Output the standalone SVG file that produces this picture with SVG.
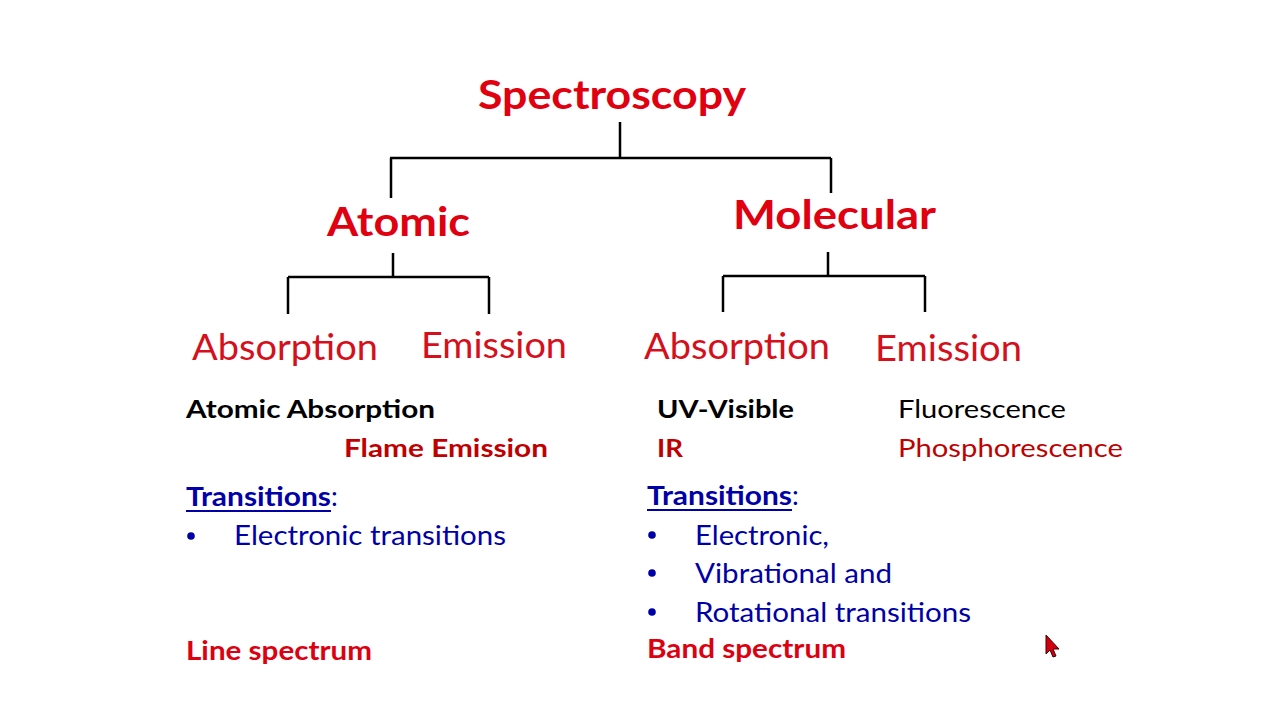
<svg xmlns="http://www.w3.org/2000/svg" width="1280" height="720" viewBox="0 0 1280 720">
<style>
text{font-family:Lato,"Open Sans","Liberation Sans",sans-serif}
.title{font-size:41px;font-weight:bold;fill:#E00010}
.sub{font-size:36px;fill:#D5101C}
.item{font-size:25px}
.b{font-weight:bold}
.blk{fill:#000}
.dred{fill:#C00000}
.blue{fill:#0000A8;font-size:27px}
.red2{fill:#DD0010;font-size:27px;font-weight:bold}
.conn{stroke:#000;stroke-width:2.5;fill:none}
.ul{stroke:#0000A8;stroke-width:2}
</style>
<rect width="1280" height="720" fill="#fff"/>
<g id="connectors">
<path class="conn" d="M620 122V158M390 158H831M391 158V198M831 158V193"/>
<path class="conn" d="M393 253V277M288 277H489M288 277V314M489 277V314"/>
<path class="conn" d="M828 252V276M723 276H925M723 276V312M925 276V312"/>
</g>
<g id="spectroscopy"><text class="title" x="478" y="109" textLength="268" lengthAdjust="spacingAndGlyphs">Spectroscopy</text></g>
<g id="atomic"><text class="title" x="327" y="236" textLength="143" lengthAdjust="spacingAndGlyphs">Atomic</text></g>
<g id="molecular"><text class="title" x="733" y="229" textLength="203" lengthAdjust="spacingAndGlyphs">Molecular</text></g>
<g id="atomic-absorption"><text class="sub" x="192" y="360" textLength="186" lengthAdjust="spacingAndGlyphs">Absorption</text></g>
<g id="atomic-emission"><text class="sub" x="421" y="358" textLength="146" lengthAdjust="spacingAndGlyphs">Emission</text></g>
<g id="molecular-absorption"><text class="sub" x="644" y="359" textLength="186" lengthAdjust="spacingAndGlyphs">Absorption</text></g>
<g id="molecular-emission"><text class="sub" x="875" y="361" textLength="147" lengthAdjust="spacingAndGlyphs">Emission</text></g>
<g id="atomic-details">
<text class="item b blk" x="186" y="418" textLength="249" lengthAdjust="spacingAndGlyphs">Atomic Absorption</text>
<text class="item b dred" x="344" y="457" textLength="204" lengthAdjust="spacingAndGlyphs">Flame Emission</text>
<text class="blue" x="186" y="506"><tspan class="b" textLength="145" lengthAdjust="spacingAndGlyphs">Transitions</tspan><tspan>:</tspan></text>
<line class="ul" x1="186" y1="511" x2="331" y2="511"/>
<circle cx="191" cy="536" r="3.8" fill="#0000A8"/>
<text class="blue" x="234" y="545" textLength="272" lengthAdjust="spacingAndGlyphs">Electronic transitions</text>
<text class="red2" x="186" y="660" textLength="186" lengthAdjust="spacingAndGlyphs">Line spectrum</text>
</g>
<g id="molecular-details">
<text class="item b blk" x="657" y="418" textLength="137" lengthAdjust="spacingAndGlyphs">UV-Visible</text>
<text class="item b dred" x="657" y="457" textLength="26" lengthAdjust="spacingAndGlyphs">IR</text>
<text class="item blk" x="898" y="418" textLength="168" lengthAdjust="spacingAndGlyphs">Fluorescence</text>
<text class="item dred" x="898" y="457" textLength="225" lengthAdjust="spacingAndGlyphs">Phosphorescence</text>
<text class="blue" x="647" y="505"><tspan class="b" textLength="145" lengthAdjust="spacingAndGlyphs">Transitions</tspan><tspan>:</tspan></text>
<line class="ul" x1="647" y1="510" x2="792" y2="510"/>
<circle cx="652" cy="535" r="3.8" fill="#0000A8"/>
<circle cx="652" cy="573" r="3.8" fill="#0000A8"/>
<circle cx="652" cy="612" r="3.8" fill="#0000A8"/>
<text class="blue" x="695" y="545" textLength="134" lengthAdjust="spacingAndGlyphs">Electronic,</text>
<text class="blue" x="695" y="583" textLength="197" lengthAdjust="spacingAndGlyphs">Vibrational and</text>
<text class="blue" x="695" y="622" textLength="276" lengthAdjust="spacingAndGlyphs">Rotational transitions</text>
<text class="red2" x="647" y="658" textLength="199" lengthAdjust="spacingAndGlyphs">Band spectrum</text>
</g>
<g id="cursor"><path d="M1046 635L1046 654L1050 650L1053 657L1056 656L1053 649L1059 649Z" fill="#D00010" stroke="#400" stroke-width="1"/></g>
</svg>
